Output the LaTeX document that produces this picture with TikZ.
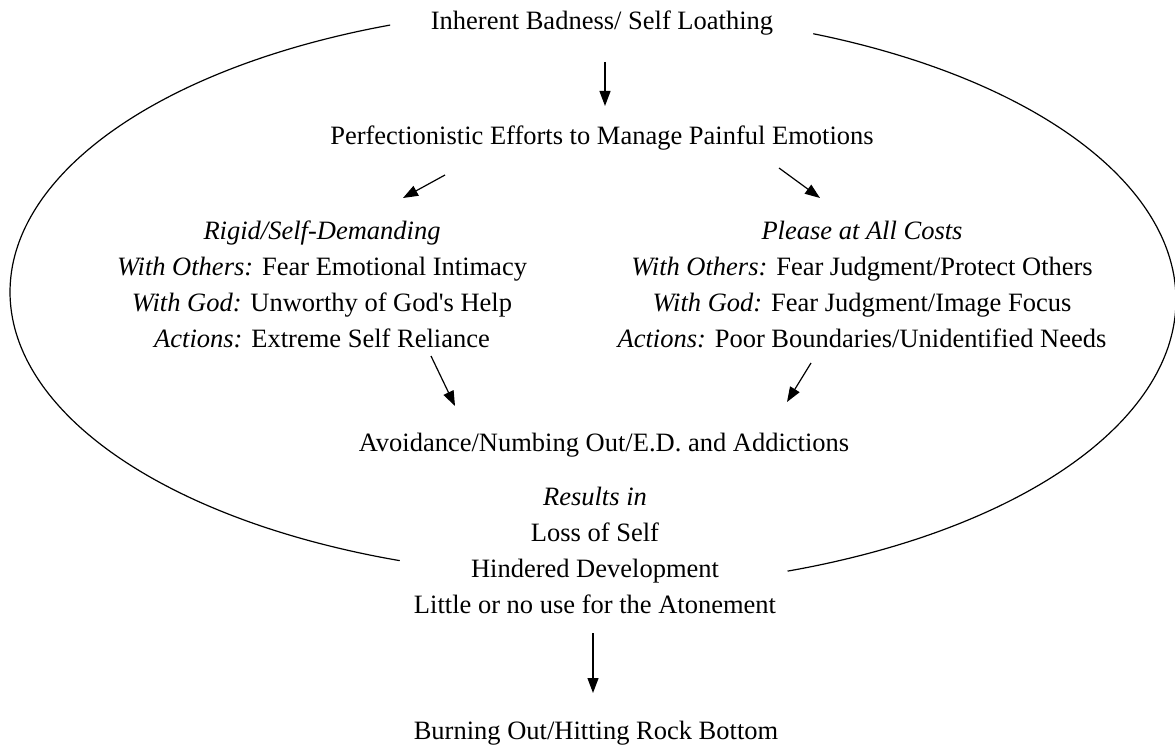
\documentclass[tikz,border=0pt]{standalone}
\usepackage{fontspec}
\setmainfont{Liberation Serif}
\usetikzlibrary{arrows.meta}
\begin{document}
\begin{tikzpicture}[x=1pt,y=-1pt,
  txt/.style={font=\fontsize{26.5}{36}\selectfont, inner sep=0pt, anchor=base},
  arr/.style={line width=1.2pt, -{Triangle[length=15pt,width=11pt]}},
  oval/.style={line width=1.2pt}]
\useasboundingbox (0,0) rectangle (1175,749);
% oval
\draw[oval] plot[domain=249.5:109.5, samples=120, smooth] ({595+585*cos(\x)},{292+285*sin(\x)});
\draw[oval] plot[domain=-67.6:70.3, samples=120, smooth] ({590+586*cos(\x)},{300+288*sin(\x)});
% texts
\node[txt] (top) at (602,30) {Inherent Badness/ Self Loathing};
\node[txt] (perf) at (602,145) {Perfectionistic Efforts to Manage Painful Emotions};
\node[txt] (l1) at (322,239) {{\itshape Rigid/Self-Demanding}};
\node[txt] (l2) at (322,275) {{\itshape With Others:} Fear Emotional Intimacy};
\node[txt] (l3) at (322,311) {{\itshape With God:} Unworthy of God\textquotesingle s Help};
\node[txt] (l4) at (322,347) {{\itshape Actions:} Extreme Self Reliance};
\node[txt] (r1) at (862,239) {{\itshape Please at All Costs}};
\node[txt] (r2) at (862,275) {{\itshape With Others:} Fear Judgment/Protect Others};
\node[txt] (r3) at (862,311) {{\itshape With God:} Fear Judgment/Image Focus};
\node[txt] (r4) at (862,347) {{\itshape Actions:} Poor Boundaries/Unidentified Needs};
\node[txt] (avoid) at (604,451) {Avoidance/Numbing Out/E.D. and Addictions};
\node[txt] (b1) at (595,505) {{\itshape Results in}};
\node[txt] (b2) at (595,541) {Loss of Self};
\node[txt] (b3) at (595,577) {Hindered Development};
\node[txt] (b4) at (595,613) {Little or no use for the Atonement};
\node[txt] (burn) at (596,739) {Burning Out/Hitting Rock Bottom};
% arrow ends
\coordinate (a1s) at (605,62);  \coordinate (a1e) at (605,106);
\coordinate (a2s) at (445,175); \coordinate (a2e) at (403,198);
\coordinate (a3s) at (779,168); \coordinate (a3e) at (820,198);
\coordinate (a4s) at (431,356); \coordinate (a4e) at (455,406);
\coordinate (a5s) at (811,363); \coordinate (a5e) at (787,402);
\coordinate (a6s) at (593,633); \coordinate (a6e) at (593,693);
\draw[arr] (a1s) -- (a1e);
\draw[arr] (a2s) -- (a2e);
\draw[arr] (a3s) -- (a3e);
\draw[arr] (a4s) -- (a4e);
\draw[arr] (a5s) -- (a5e);
\draw[arr] (a6s) -- (a6e);
\end{tikzpicture}
\end{document}
